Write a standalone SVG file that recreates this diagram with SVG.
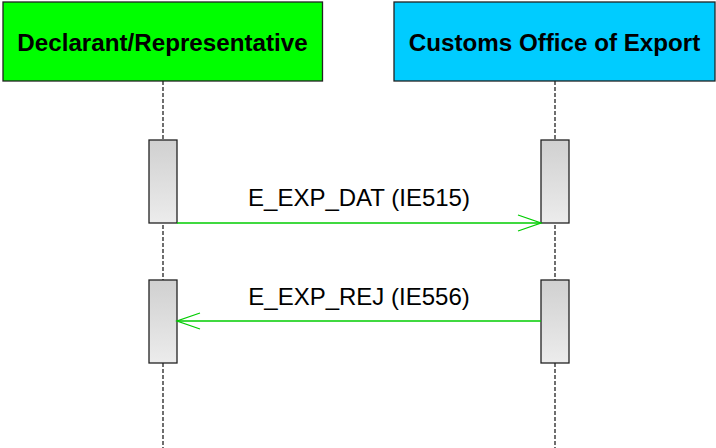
<svg xmlns="http://www.w3.org/2000/svg" width="716" height="448" viewBox="0 0 716 448">
<defs>
<linearGradient id="act" x1="0" y1="0" x2="0" y2="1">
<stop offset="0" stop-color="#d0d0d0"/>
<stop offset="1" stop-color="#ececec"/>
</linearGradient>
<marker id="open" markerWidth="26" markerHeight="20" refX="24" refY="10" orient="auto" markerUnits="userSpaceOnUse">
<path d="M1,2 L24,10 L1,18" fill="none" stroke="#00cc00" stroke-width="1.3"/>
</marker>
</defs>
<style>
.actor{stroke:#222;stroke-width:1.3}
.title{font-family:"Liberation Sans",Arial,sans-serif;font-weight:bold;font-size:24.2px;fill:#000;text-anchor:middle}
.life{stroke:#222;stroke-width:1.3;stroke-dasharray:4,2;fill:none}
.act{fill:url(#act);stroke:#222;stroke-width:1.3}
.msg{stroke:#00cc00;stroke-width:1.3;fill:none;marker-end:url(#open)}
.lbl{font-family:"Liberation Sans",Arial,sans-serif;font-size:24px;fill:#000;text-anchor:middle}
</style>
<rect width="716" height="448" fill="#fff"/>
<g id="lifelines">
<line class="life" x1="163" y1="81" x2="163" y2="448"/>
<line class="life" x1="555" y1="81" x2="555" y2="448"/>
</g>
<g id="declarant">
<rect class="actor" x="3" y="2" width="319.5" height="79" fill="#00ff00"/>
<text class="title" x="162.5" y="51">Declarant/Representative</text>
</g>
<g id="customs">
<rect class="actor" x="394" y="2" width="321" height="79" fill="#00ccff"/>
<text class="title" x="554.5" y="51">Customs Office of Export</text>
</g>
<g id="activations">
<rect class="act" x="149" y="140" width="28" height="83"/>
<rect class="act" x="541" y="140" width="28" height="83"/>
<rect class="act" x="149" y="280" width="28" height="83"/>
<rect class="act" x="541" y="280" width="28" height="83"/>
</g>
<g id="connectors">
<line class="msg" x1="177" y1="223" x2="541" y2="223"/>
<text class="lbl" x="359" y="206">E_EXP_DAT (IE515)</text>
<line class="msg" x1="541" y1="321" x2="177" y2="321"/>
<text class="lbl" x="359" y="305">E_EXP_REJ (IE556)</text>
</g>
</svg>
